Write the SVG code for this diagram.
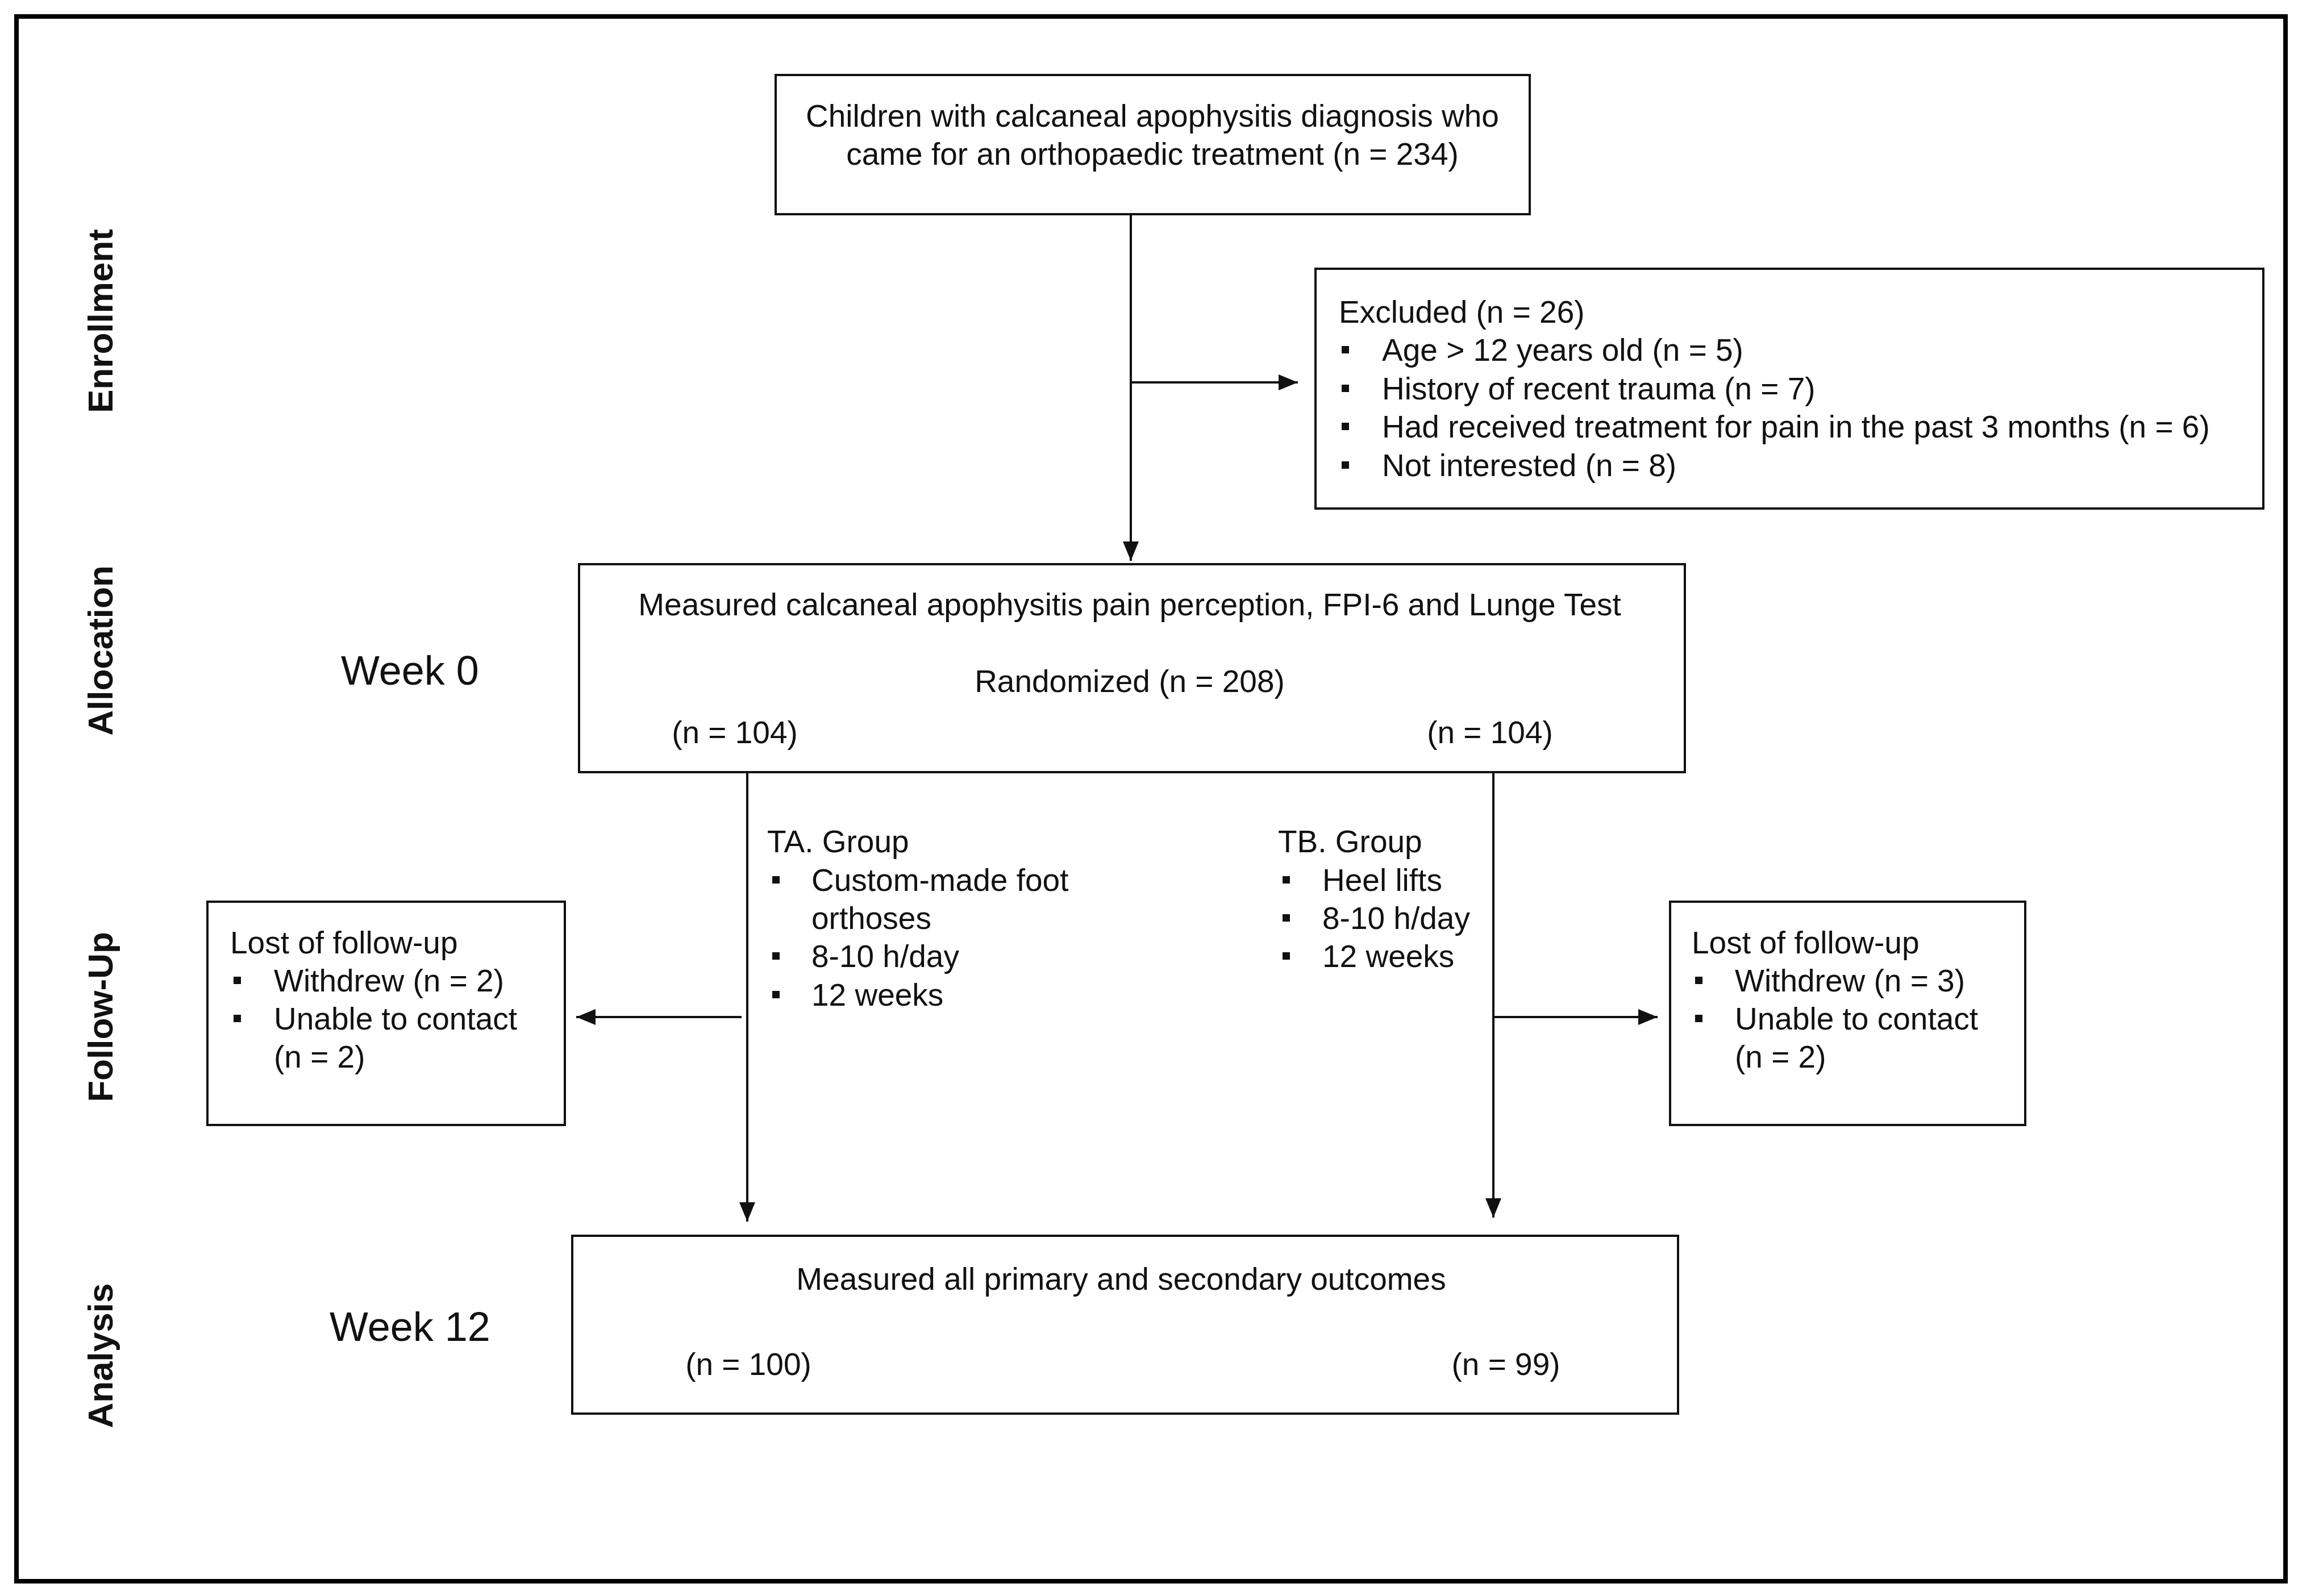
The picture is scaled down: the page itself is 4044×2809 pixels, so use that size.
<svg xmlns="http://www.w3.org/2000/svg" width="4044" height="2809" viewBox="0 0 4044 2809">
  <style>
    .box { fill: #ffffff; stroke: #111111; stroke-width: 4; }
    .t { font-family: "Liberation Sans", Arial, sans-serif; font-size: 55px; fill: #111111; }
    .c { text-anchor: middle; }
    .wk { font-family: "Liberation Sans", Arial, sans-serif; font-size: 72px; fill: #111111; }
    .stage { font-family: "Liberation Sans", Arial, sans-serif; font-size: 62px; font-weight: bold; fill: #111111; text-anchor: middle; }
    .conn { stroke: #111111; stroke-width: 4; fill: none; }
    .b { fill: #111111; }
  </style>
  <defs>
    <marker id="arr" markerUnits="userSpaceOnUse" markerWidth="34" markerHeight="28" refX="34" refY="14" orient="auto">
      <path d="M0,0 L34,14 L0,28 z" fill="#111111"/>
    </marker>
  </defs>

  <rect x="0" y="0" width="4044" height="2809" fill="#ffffff"/>
  <rect id="frame" x="29" y="29" width="3993" height="2754" fill="none" stroke="#000000" stroke-width="8"/>

  <g id="stage-labels">
    <text class="stage" transform="translate(198,565) rotate(-90)">Enrollment</text>
    <text class="stage" transform="translate(198,1145) rotate(-90)">Allocation</text>
    <text class="stage" transform="translate(198,1790) rotate(-90)">Follow-Up</text>
    <text class="stage" transform="translate(198,2386) rotate(-90)">Analysis</text>
  </g>

  <g id="week0"><text class="wk" x="600" y="1205">Week 0</text></g>
  <g id="week12"><text class="wk" x="580" y="2360">Week 12</text></g>

  <g id="connectors">
    <line class="conn" x1="1990" y1="377" x2="1990" y2="987" marker-end="url(#arr)"/>
    <line class="conn" x1="1990" y1="673" x2="2284" y2="673" marker-end="url(#arr)"/>
    <line class="conn" x1="1315" y1="1359" x2="1315" y2="2150" marker-end="url(#arr)"/>
    <line class="conn" x1="2628" y1="1359" x2="2628" y2="2143" marker-end="url(#arr)"/>
    <line class="conn" x1="1305" y1="1790" x2="1014" y2="1790" marker-end="url(#arr)"/>
    <line class="conn" x1="2629" y1="1790" x2="2917" y2="1790" marker-end="url(#arr)"/>
  </g>

  <g id="node-screened">
    <rect class="box" x="1365" y="132" width="1327" height="245"/>
    <text class="t c" x="2028" y="223">Children with calcaneal apophysitis diagnosis who</text>
    <text class="t c" x="2028" y="290">came for an orthopaedic treatment (n = 234)</text>
  </g>

  <g id="node-excluded">
    <rect class="box" x="2315" y="473" width="1668" height="422"/>
    <text class="t" x="2356" y="568">Excluded (n = 26)</text>
    <rect class="b" x="2361" y="609" width="13" height="13"/>
    <text class="t" x="2432" y="635">Age &gt; 12 years old (n = 5)</text>
    <rect class="b" x="2361" y="677" width="13" height="13"/>
    <text class="t" x="2432" y="703">History of recent trauma (n = 7)</text>
    <rect class="b" x="2361" y="744" width="13" height="13"/>
    <text class="t" x="2432" y="770">Had received  treatment for pain in the past 3 months (n = 6)</text>
    <rect class="b" x="2361" y="812" width="13" height="13"/>
    <text class="t" x="2432" y="838">Not interested (n = 8)</text>
  </g>

  <g id="node-allocation">
    <rect class="box" x="1019" y="993" width="1946" height="366"/>
    <text class="t c" x="1988" y="1083">Measured calcaneal apophysitis pain perception, FPI-6 and Lunge Test</text>
    <text class="t c" x="1988" y="1218">Randomized (n = 208)</text>
    <text class="t c" x="1293" y="1308">(n = 104)</text>
    <text class="t c" x="2622" y="1308">(n = 104)</text>
  </g>

  <g id="node-ta-group">
    <text class="t" x="1350" y="1500">TA. Group</text>
    <rect class="b" x="1359" y="1542" width="13" height="13"/>
    <text class="t" x="1428" y="1568">Custom-made foot</text>
    <text class="t" x="1428" y="1635">orthoses</text>
    <rect class="b" x="1359" y="1676" width="13" height="13"/>
    <text class="t" x="1428" y="1702">8-10 h/day</text>
    <rect class="b" x="1359" y="1744" width="13" height="13"/>
    <text class="t" x="1428" y="1770">12 weeks</text>
  </g>

  <g id="node-tb-group">
    <text class="t" x="2249" y="1500">TB. Group</text>
    <rect class="b" x="2257" y="1542" width="13" height="13"/>
    <text class="t" x="2327" y="1568">Heel lifts</text>
    <rect class="b" x="2257" y="1609" width="13" height="13"/>
    <text class="t" x="2327" y="1635">8-10 h/day</text>
    <rect class="b" x="2257" y="1676" width="13" height="13"/>
    <text class="t" x="2327" y="1702">12 weeks</text>
  </g>

  <g id="node-lost-left">
    <rect class="box" x="365" y="1587" width="629" height="393"/>
    <text class="t" x="405" y="1678">Lost of follow-up</text>
    <rect class="b" x="411" y="1719" width="13" height="13"/>
    <text class="t" x="482" y="1745">Withdrew (n = 2)</text>
    <rect class="b" x="411" y="1786" width="13" height="13"/>
    <text class="t" x="482" y="1812">Unable  to contact</text>
    <text class="t" x="482" y="1879">(n = 2)</text>
  </g>

  <g id="node-lost-right">
    <rect class="box" x="2939" y="1587" width="625" height="393"/>
    <text class="t" x="2977" y="1678">Lost of follow-up</text>
    <rect class="b" x="2983" y="1719" width="13" height="13"/>
    <text class="t" x="3053" y="1745">Withdrew (n = 3)</text>
    <rect class="b" x="2983" y="1786" width="13" height="13"/>
    <text class="t" x="3053" y="1812">Unable  to contact</text>
    <text class="t" x="3053" y="1879">(n = 2)</text>
  </g>

  <g id="node-analysis">
    <rect class="box" x="1007" y="2175" width="1946" height="313"/>
    <text class="t c" x="1973" y="2270">Measured all primary and secondary outcomes</text>
    <text class="t c" x="1317" y="2420">(n = 100)</text>
    <text class="t c" x="2650" y="2420">(n = 99)</text>
  </g>
</svg>
